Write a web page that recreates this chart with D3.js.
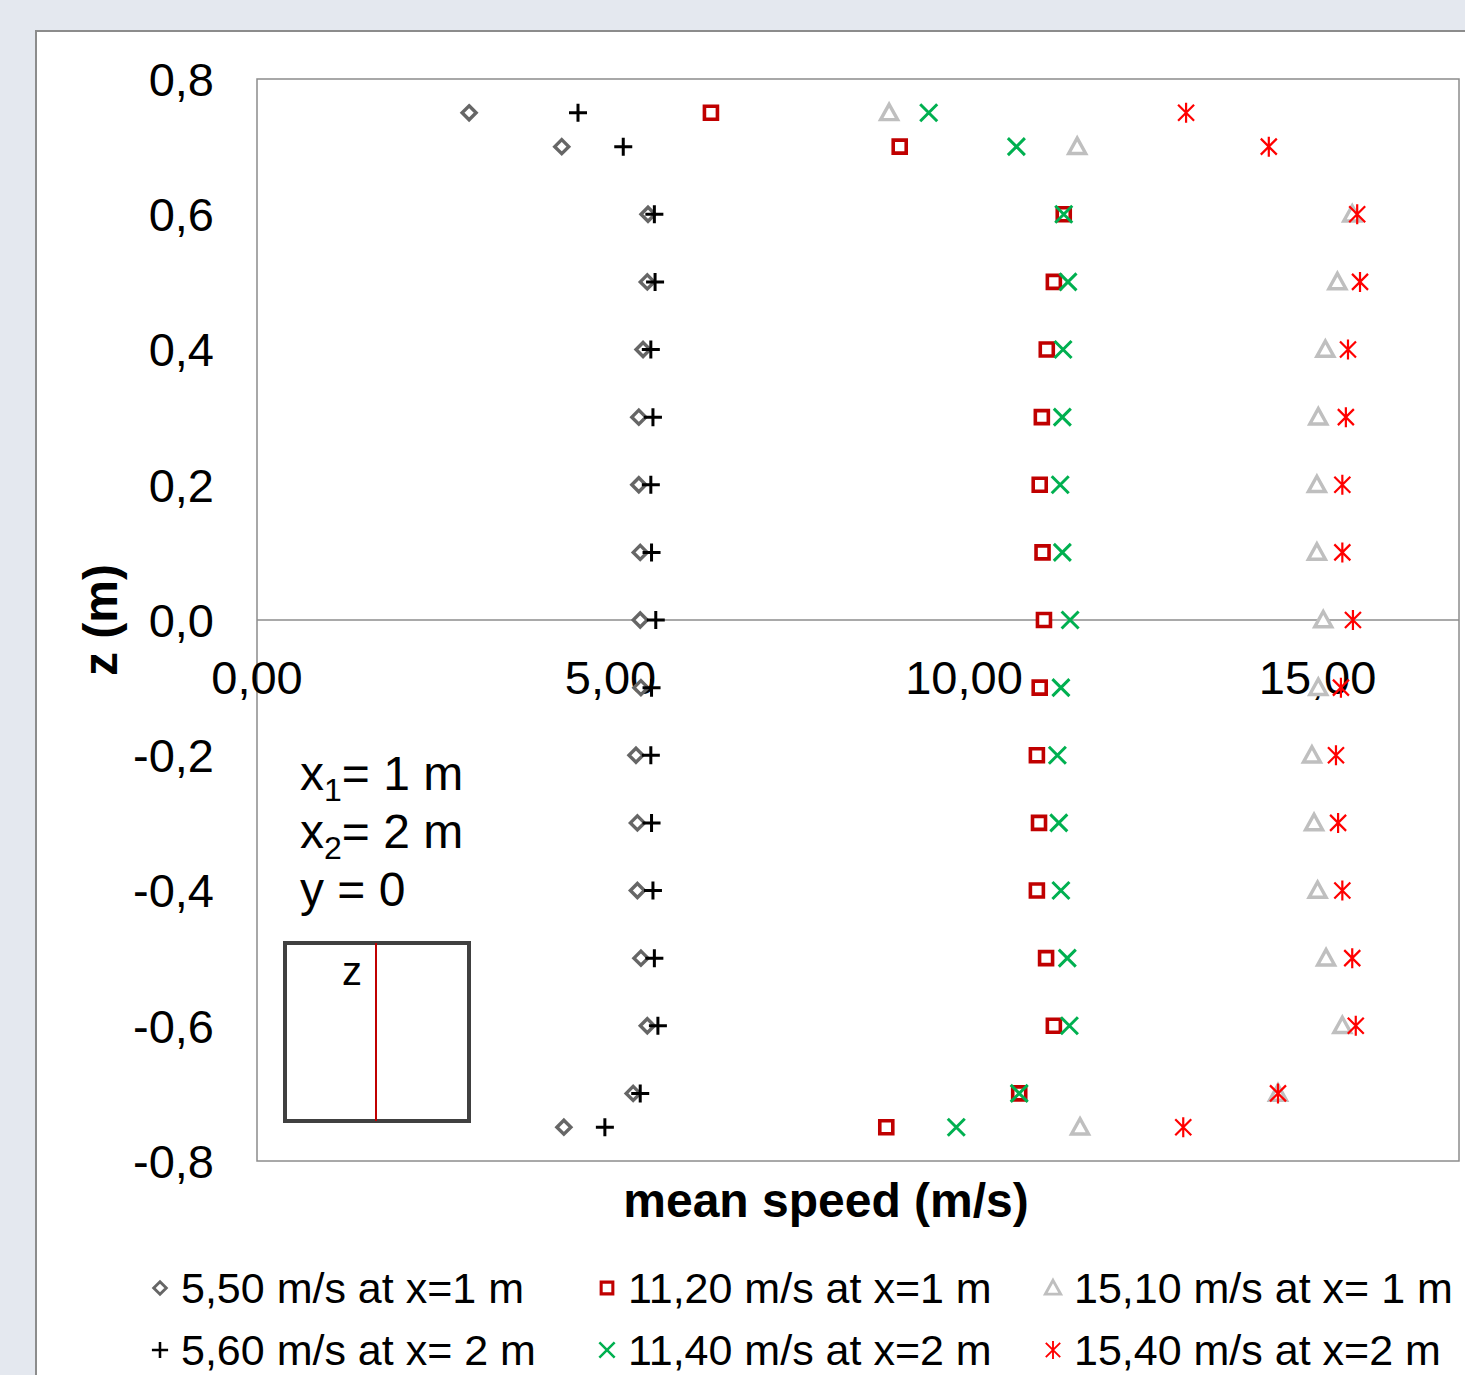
<!DOCTYPE html>
<meta charset="utf-8">
<style>
body {
  margin: 0;
  background: #e4e8ef;
  font-family: "Liberation Sans", Arial, sans-serif;
}
svg { display: block; }
.tick-label { font-size: 47px; fill: #000; }
.axis-title { font-size: 48px; font-weight: bold; fill: #000; }
.legend text { font-size: 43px; fill: #000; }
.note { font-size: 48px; fill: #000; }
</style>
<svg width="1465" height="1375"></svg>
<script src="https://d3js.org/d3.v7.min.js"></script>
<script>

// heights (m) where the speed was measured
var heights = [0.75, 0.7, 0.6, 0.5, 0.4, 0.3, 0.2, 0.1, 0.0, -0.1, -0.2, -0.3, -0.4, -0.5, -0.6, -0.7, -0.75];

var s550x1 = [3.00, 4.31, 5.53, 5.52, 5.46, 5.40, 5.40, 5.42, 5.42, 5.43, 5.36, 5.38, 5.38, 5.43, 5.52, 5.32, 4.34];
var s560x2 = [4.54, 5.18, 5.62, 5.63, 5.57, 5.60, 5.57, 5.58, 5.64, 5.58, 5.57, 5.58, 5.60, 5.62, 5.67, 5.42, 4.92];
var s1120x1 = [6.42, 9.09, 11.41, 11.27, 11.17, 11.10, 11.07, 11.11, 11.13, 11.07, 11.03, 11.06, 11.03, 11.16, 11.27, 10.78, 8.90];
var s1140x2 = [9.50, 10.74, 11.41, 11.47, 11.40, 11.39, 11.36, 11.39, 11.50, 11.37, 11.32, 11.34, 11.37, 11.46, 11.49, 10.78, 9.89];
var s1510x1 = [8.94, 11.60, 15.49, 15.28, 15.11, 15.01, 14.99, 14.99, 15.08, 15.01, 14.92, 14.95, 15.00, 15.12, 15.35, 14.44, 11.64];
var s1540x2 = [13.14, 14.31, 15.56, 15.60, 15.43, 15.40, 15.35, 15.35, 15.50, 15.33, 15.26, 15.29, 15.35, 15.49, 15.54, 14.44, 13.10];

var seriesNames = ["5,50 m/s at x=1 m", "5,60 m/s at x= 2 m", "11,20 m/s at x=1 m",
                   "11,40 m/s at x=2 m", "15,10 m/s at x= 1 m", "15,40 m/s at x=2 m"];

var xTicks = [0, 5, 10, 15];
var yTicks = [0.8, 0.6, 0.4, 0.2, 0.0, -0.2, -0.4, -0.6, -0.8];

var svg = d3.select("svg");

var x = d3.scaleLinear().domain([0, 17]).range([257, 1459]);
var y = d3.scaleLinear().domain([-0.8, 0.8]).range([1161, 79]);

var comma = function(v, digits) { return v.toFixed(digits).replace(".", ","); };

// white chart area with its thin border
svg.append("rect")
    .attr("x", 36).attr("y", 31)
    .attr("width", 1465).attr("height", 1400)
    .attr("fill", "#fff")
    .attr("stroke", "#8c8c8c")
    .attr("stroke-width", 2);

// plot area
svg.append("rect")
    .attr("x", x(0)).attr("y", y(0.8))
    .attr("width", x(17) - x(0)).attr("height", y(-0.8) - y(0.8))
    .attr("fill", "none")
    .attr("stroke", "#8c8c8c")
    .attr("stroke-width", 1.5);

// horizontal axis through z = 0
svg.append("line")
    .attr("x1", x(0)).attr("x2", x(17))
    .attr("y1", y(0)).attr("y2", y(0))
    .attr("stroke", "#8c8c8c")
    .attr("stroke-width", 1.5);

svg.selectAll(".ylab")
  .data(yTicks)
  .enter().append("text")
    .attr("class", "tick-label")
    .attr("x", 214)
    .attr("y", function(d) { return y(d); })
    .attr("dy", "0.36em")
    .attr("text-anchor", "end")
    .text(function(d) { return comma(d, 1); });

svg.selectAll(".xlab")
  .data(xTicks)
  .enter().append("text")
    .attr("class", "tick-label")
    .attr("x", function(d) { return x(d); })
    .attr("y", y(0) + 74)
    .attr("text-anchor", "middle")
    .text(function(d) { return comma(d, 2); });

svg.append("text")
    .attr("class", "axis-title")
    .attr("transform", "translate(117," + y(0) + ") rotate(-90)")
    .attr("text-anchor", "middle")
    .text("z (m)");

svg.append("text")
    .attr("class", "axis-title")
    .attr("x", 826).attr("y", 1217)
    .attr("text-anchor", "middle")
    .text("mean speed (m/s)");

// marker shapes, r is half width
function diamond(r) { return "M0," + (-r) + "L" + r + ",0L0," + r + "L" + (-r) + ",0Z"; }
function square(r) { return "M" + (-r) + "," + (-r) + "H" + r + "V" + r + "H" + (-r) + "Z"; }
function triangle(r) { return "M0," + (-r) + "L" + r + "," + (r * 0.8) + "L" + (-r) + "," + (r * 0.8) + "Z"; }
function plus(r) { return "M" + (-r) + ",0H" + r + "M0," + (-r) + "V" + r; }
function cross(r) { return "M" + (-r) + "," + (-r) + "L" + r + "," + r + "M" + r + "," + (-r) + "L" + (-r) + "," + r; }
function star(r) { return cross(r) + "M0," + (-r * 1.25) + "V" + (r * 1.25); }

var styles = [
  { values: s550x1, shape: diamond, r: 7, stroke: "#666666", width: 3.4, fill: "#fff" },
  { values: s560x2, shape: plus, r: 9, stroke: "#000000", width: 3, fill: "none" },
  { values: s1120x1, shape: square, r: 6.5, stroke: "#c00000", width: 3.6, fill: "#fff" },
  { values: s1140x2, shape: cross, r: 8.5, stroke: "#00b050", width: 3, fill: "none" },
  { values: s1510x1, shape: triangle, r: 8.5, stroke: "#bfbfbf", width: 3.4, fill: "#fff" },
  { values: s1540x2, shape: star, r: 8, stroke: "#ff0000", width: 2.2, fill: "none" }
];

// drawing order: x=1 series underneath
var order = [0, 2, 4, 1, 3, 5];
order.forEach(function(i) {
  var s = styles[i];
  svg.append("g").selectAll("path")
    .data(s.values)
    .enter().append("path")
      .attr("transform", function(d, j) { return "translate(" + x(d) + "," + y(heights[j]) + ")"; })
      .attr("d", s.shape(s.r))
      .attr("fill", s.fill)
      .attr("stroke", s.stroke)
      .attr("stroke-width", s.width);
});

// legend, two rows of three
var legendCols = [160, 607, 1053];
var legendRows = [1288, 1350];
var legendOrder = [0, 2, 4, 1, 3, 5];
var legend = svg.append("g").attr("class", "legend");
legendOrder.forEach(function(i, k) {
  var s = styles[i];
  var lx = legendCols[k % 3], ly = legendRows[Math.floor(k / 3)];
  legend.append("path")
      .attr("transform", "translate(" + lx + "," + ly + ")")
      .attr("d", s.shape(s.r * 0.9))
      .attr("fill", s.fill)
      .attr("stroke", s.stroke)
      .attr("stroke-width", s.width * 0.85);
  legend.append("text")
      .attr("x", lx + 21).attr("y", ly)
      .attr("dy", "0.36em")
      .text(seriesNames[i]);
});

// position note
var note = svg.append("g");
var t1 = note.append("text").attr("class", "note").attr("x", 300).attr("y", 790);
t1.append("tspan").text("x");
t1.append("tspan").attr("font-size", "32px").attr("dy", 11).text("1");
t1.append("tspan").attr("dy", -11).text("= 1 m");
var t2 = note.append("text").attr("class", "note").attr("x", 300).attr("y", 848);
t2.append("tspan").text("x");
t2.append("tspan").attr("font-size", "32px").attr("dy", 11).text("2");
t2.append("tspan").attr("dy", -11).text("= 2 m");
note.append("text").attr("class", "note").attr("x", 300).attr("y", 906).text("y = 0");

// cross-section sketch
note.append("rect")
    .attr("x", 285).attr("y", 943)
    .attr("width", 184).attr("height", 178)
    .attr("fill", "#fff")
    .attr("stroke", "#404040")
    .attr("stroke-width", 4);
note.append("line")
    .attr("x1", 376).attr("x2", 376)
    .attr("y1", 943).attr("y2", 1121)
    .attr("stroke", "#c00000")
    .attr("stroke-width", 2);
note.append("text")
    .attr("x", 352).attr("y", 985)
    .attr("text-anchor", "middle")
    .attr("font-size", "40px")
    .text("z");

</script>
